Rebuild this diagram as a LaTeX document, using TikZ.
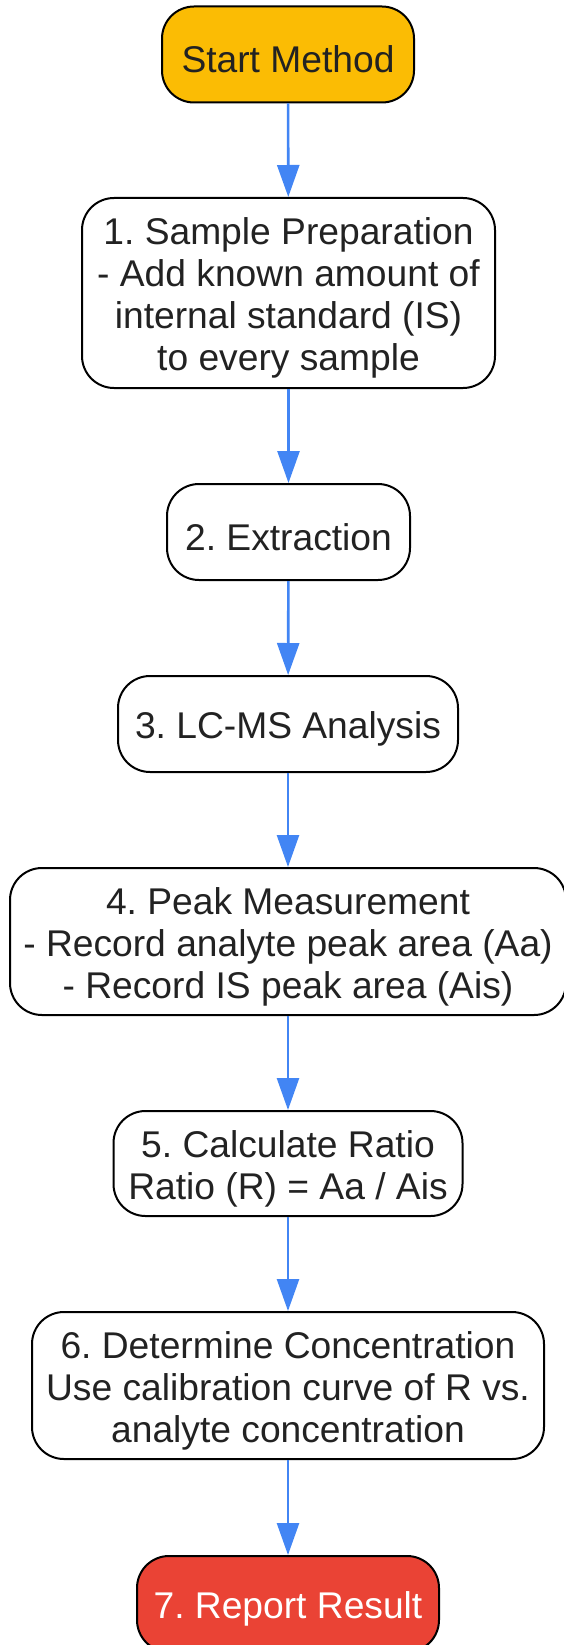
\documentclass[tikz,border=0pt]{standalone}
\usepackage{fontspec}
\setmainfont{Liberation Sans}
\frenchspacing
\usetikzlibrary{arrows.meta}
\definecolor{txt}{HTML}{222222}
\definecolor{startfill}{HTML}{FBBC04}
\definecolor{endfill}{HTML}{EA4335}
\definecolor{arr}{HTML}{4285F4}
\begin{document}
\begin{tikzpicture}[x=1pt,y=-1pt,
  box/.style={draw=black,line width=2pt,rounded corners=32pt,fill=white,inner sep=0pt},
  boxtxt/.style={align=center,text=txt,inner sep=0pt,yshift=-5pt,
    font=\fontsize{37.2}{42}\selectfont},
  flow/.style={draw=arr,line width=2.6pt,-{Triangle[length=32pt,width=22pt]}}]
\useasboundingbox[fill=white] (0,0) rectangle (564,1645);
\node[box,fill=startfill,minimum width=252pt,minimum height=96pt] (s) at (288,54.5) {};
\node[boxtxt] (st) at (s.center) {Start Method};
\node[box,minimum width=413pt,minimum height=190pt] (b1) at (288.5,293) {};
\node[boxtxt] (b1t) at (b1.center) {1. Sample Preparation\\- Add known amount of\\internal standard (IS)\\to every sample};
\node[box,minimum width=243pt,minimum height=96pt] (b2) at (288.5,532) {};
\node[boxtxt] (b2t) at (b2.center) {2. Extraction};
\node[box,minimum width=340pt,minimum height=96pt] (b3) at (288,724) {};
\node[boxtxt] (b3t) at (b3.center) {3. LC-MS Analysis};
\node[box,minimum width=556pt,minimum height=147pt] (b4) at (288,941.5) {};
\node[boxtxt] (b4t) at (b4.center) {4. Peak Measurement\\- Record analyte peak area (Aa)\\- Record IS peak area (Ais)};
\node[box,minimum width=349pt,minimum height=105pt] (b5) at (288,1163.5) {};
\node[boxtxt] (b5t) at (b5.center) {5. Calculate Ratio\\Ratio (R) = Aa / Ais};
\node[box,minimum width=512pt,minimum height=147pt] (b6) at (288,1385.5) {};
\node[boxtxt] (b6t) at (b6.center) {6. Determine Concentration\\Use calibration curve of R vs.\\analyte concentration};
\node[box,fill=endfill,minimum width=302pt,minimum height=96pt] (b7) at (288,1604) {};
\node[boxtxt,text=white] (b7t) at (b7.center) {7. Report Result};
\draw[flow] (s) -- (b1);
\draw[flow] (b1) -- (b2);
\draw[flow] (b2) -- (b3);
\draw[flow] (b3) -- (b4);
\draw[flow] (b4) -- (b5);
\draw[flow] (b5) -- (b6);
\draw[flow] (b6) -- (b7);
\end{tikzpicture}
\end{document}
